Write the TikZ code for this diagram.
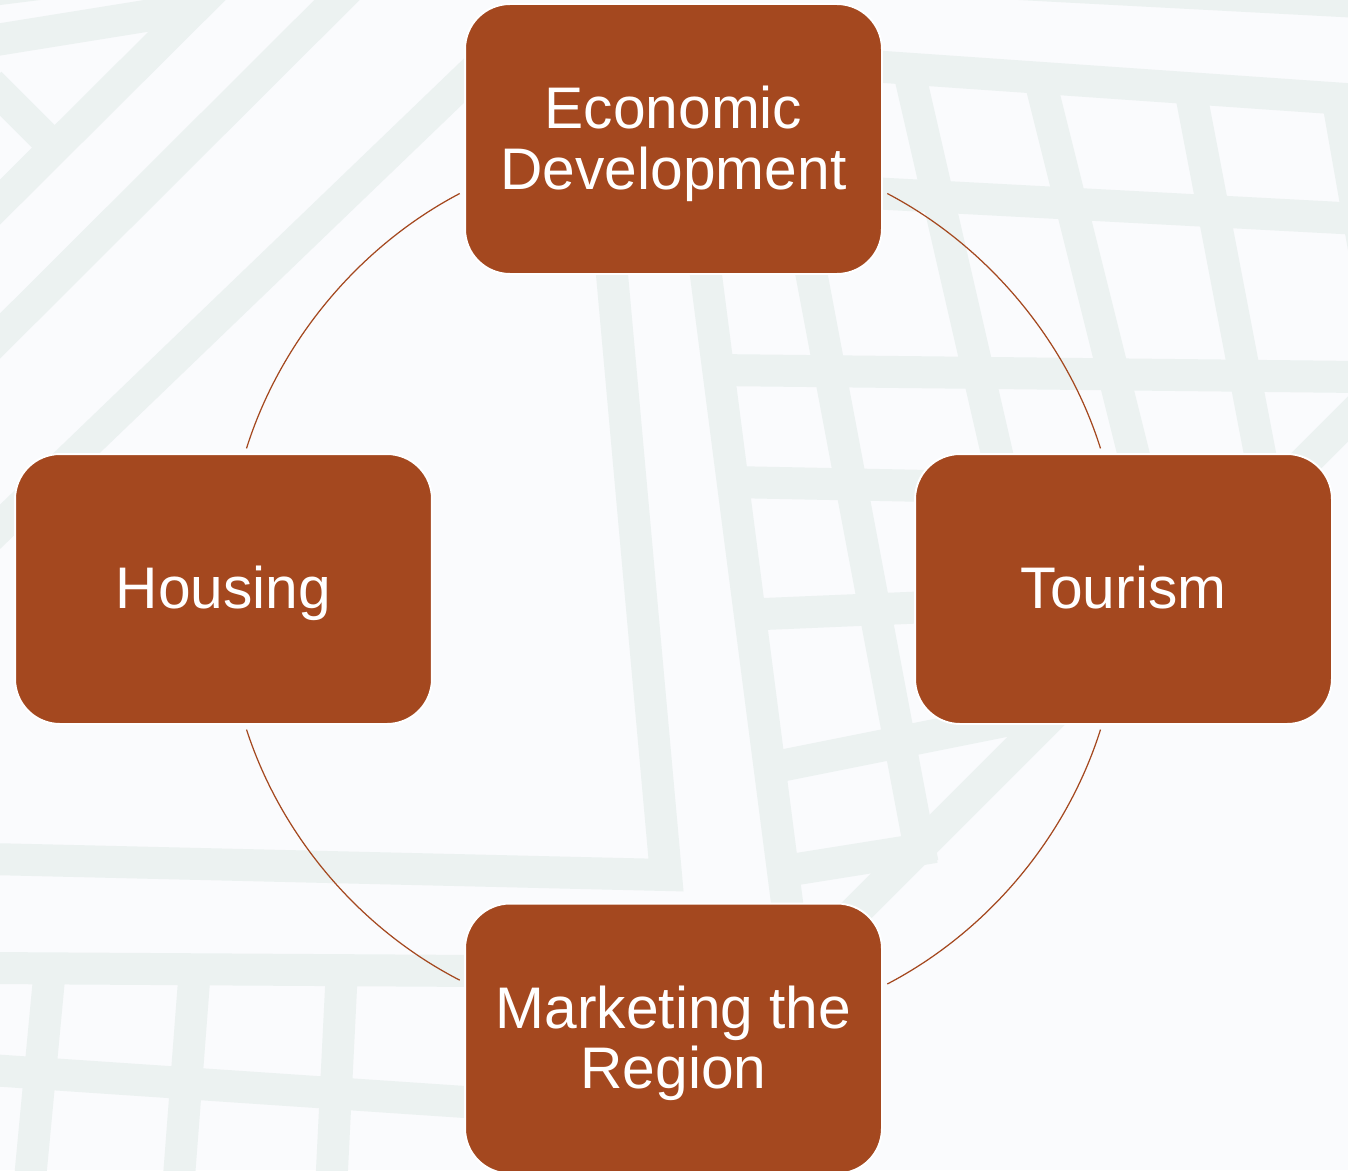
\documentclass[tikz,border=0pt]{standalone}
\usepackage{fontspec}
\setmainfont{Liberation Sans}
\definecolor{palebg}{HTML}{FAFBFD}
\definecolor{streetgray}{HTML}{ECF2F1}
\definecolor{rustbox}{HTML}{A4481F}
\newcommand{\boxtop}{\rule{0pt}{30.2pt}}
\newcommand{\boxbot}{\rule[-7.5pt]{0pt}{7.5pt}}
\tikzset{
  street/.style={streetgray,line width=0.64cm,line join=miter},
  topicbox/.style={draw=white,line width=1.1pt,fill=rustbox,text=white,rounded corners=0.9cm,
    minimum width=8.34cm,minimum height=5.4cm,align=center,inner sep=0pt,
    font=\fontsize{33.4}{34.6}\selectfont},
  ringarc/.style={rustbox,line width=0.7pt,shorten >=2.8pt,shorten <=2.8pt,bend left=22.4,looseness=0.886}
}
\begin{document}
\begin{tikzpicture}[x=0.02cm,y=-0.02cm]
\useasboundingbox (0,0) rectangle (1348,1170);
\fill[palebg] (0,0) rectangle (1348,1170);
\begin{scope}
\clip (0,0) rectangle (1348,1170);
%top left corner
\fill[streetgray] (0,0) -- (40,0) -- (0,5) -- cycle;
\draw[street] (-10,41) -- (195,8);
\draw[street] (225,-22) -- (-20,222);
\draw[street] (-10,83) -- (54,147);
\draw[street] (357,-20) -- (-20,356);
\draw[street] (-20,546) -- (500,46);
%long road with its corner
\draw[street] (-10,859) -- (666,875) -- (608,230);
%bottom left block
\draw[street] (-10,968) -- (480,971);
\draw[street] (-10,1070) -- (480,1103);
\draw[street] (50,968) -- (29,1190);
\draw[street] (195,968) -- (178,1190);
\draw[street] (342,968) -- (331,1190);
%right block, across
\draw[street] (1000,-17) -- (1360,2);
\draw[street] (870,66) -- (1360,100);
\draw[street] (870,193) -- (1360,219);
\draw[street] (715,370) -- (1360,377);
\draw[street] (730,482) -- (930,486);
\draw[street] (740,615) -- (930,607);
\draw[street] (760,770) -- (1040,714);
\draw[street] (772,873) -- (935,847);
%right block, down
\draw[street] (673,20) -- (788,910);
\draw[street] (805,240) -- (922.5,863);
\draw[street] (908,67) -- (1003,480);
\draw[street] (1040,80) -- (1140,480);
\draw[street] (1189.5,86) -- (1265,480);
\draw[street] (1336,90) -- (1373,300);
\draw[street] (1380,387) -- (830,937);
\end{scope}

\node[topicbox] (econ) at (673.5,139) {\boxtop Economic\\Development\boxbot};
\node[topicbox] (tour) at (1123.5,589) {\boxtop Tourism\boxbot};
\node[topicbox] (market) at (673.5,1038.5) {\boxtop Marketing the\\Region\boxbot};
\node[topicbox] (house) at (223.5,589) {\boxtop Housing\boxbot};

\draw[ringarc] (econ.-14.2) to (tour.99.3);
\draw[ringarc] (tour.-99.3) to (market.14.2);
\draw[ringarc] (market.165.8) to (house.-81);
\draw[ringarc] (house.81) to (econ.194.2);
\end{tikzpicture}
\end{document}
